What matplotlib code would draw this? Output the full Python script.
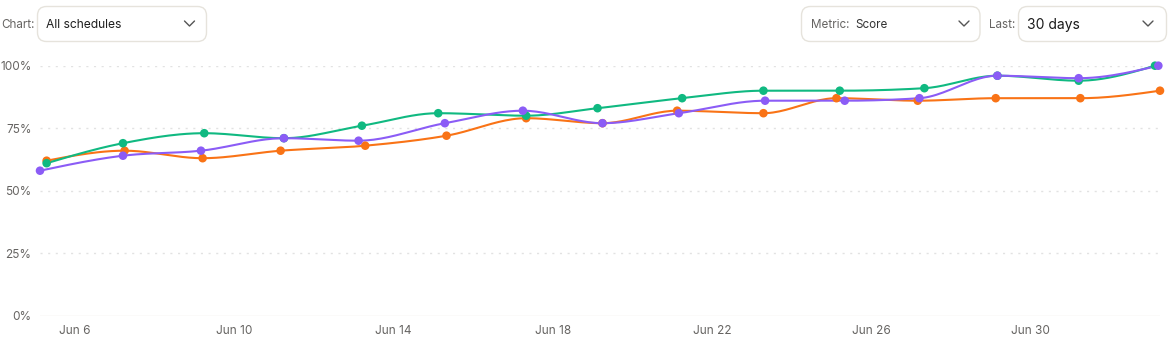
import matplotlib
matplotlib.use("Agg")
import matplotlib.pyplot as plt
import matplotlib.dates as mdates
from matplotlib.patches import FancyBboxPatch
import numpy as np
import pandas as pd

plt.rcParams["font.family"] = ["Inter", "DejaVu Sans"]

# score per run, three schedules (run timestamps differ slightly)
green_times = ["2025-06-05 07:00", "2025-06-07 05:00", "2025-06-09 06:00", "2025-06-11 06:00",
               "2025-06-13 05:00", "2025-06-15 03:00", "2025-06-17 08:00", "2025-06-19 03:00",
               "2025-06-21 06:00", "2025-06-23 07:00", "2025-06-25 05:00", "2025-06-27 08:00",
               "2025-06-29 04:00", "2025-07-01 05:00", "2025-07-03 03:00"]
green_scores = [61, 69, 73, 71, 76, 81, 80, 83, 87, 90, 90, 91, 96, 94, 100]

orange_times = ["2025-06-05 07:00", "2025-06-07 06:00", "2025-06-09 05:00", "2025-06-11 04:00",
                "2025-06-13 07:00", "2025-06-15 08:00", "2025-06-17 08:00", "2025-06-19 06:00",
                "2025-06-21 03:00", "2025-06-23 07:00", "2025-06-25 03:00", "2025-06-27 04:00",
                "2025-06-29 03:00", "2025-07-01 06:00", "2025-07-03 06:00"]
orange_scores = [62, 66, 63, 66, 68, 72, 79, 77, 82, 81, 87, 86, 87, 87, 90]

purple_times = ["2025-06-05 03:00", "2025-06-07 05:00", "2025-06-09 04:00", "2025-06-11 06:00",
                "2025-06-13 03:00", "2025-06-15 07:00", "2025-06-17 06:00", "2025-06-19 06:00",
                "2025-06-21 04:00", "2025-06-23 08:00", "2025-06-25 08:00", "2025-06-27 05:00",
                "2025-06-29 04:00", "2025-07-01 05:00", "2025-07-03 05:00"]
purple_scores = [58, 64, 66, 71, 70, 77, 82, 77, 81, 86, 86, 87, 96, 95, 100]

y_ticks = [0, 25, 50, 75, 100]
x_tick_dates = ["2025-06-06", "2025-06-10", "2025-06-14", "2025-06-18",
                "2025-06-22", "2025-06-26", "2025-06-30"]

GREEN, ORANGE, PURPLE = "#10b981", "#f97316", "#8b5cf6"
GREY_TXT = "#666462"


def monotone(x, y, n=24):
    """Monotone cubic curve through the points (same rule as d3 curveMonotoneX)."""
    x = np.asarray(x, float)
    y = np.asarray(y, float)
    h = np.diff(x)
    s = np.diff(y) / h
    m = np.zeros_like(y)
    for i in range(1, len(x) - 1):
        s0, s1 = s[i - 1], s[i]
        p = (s0 * h[i] + s1 * h[i - 1]) / (h[i - 1] + h[i])
        sg = (1 if s0 >= 0 else -1) + (1 if s1 >= 0 else -1)
        m[i] = sg * min(abs(s0), abs(s1), 0.5 * abs(p))
    m[0] = (3 * s[0] - m[1]) / 2
    m[-1] = (3 * s[-1] - m[-2]) / 2
    xs, ys = [], []
    t = np.linspace(0, 1, n)
    for i in range(len(x) - 1):
        h00 = 2 * t**3 - 3 * t**2 + 1
        h10 = t**3 - 2 * t**2 + t
        h01 = -2 * t**3 + 3 * t**2
        h11 = t**3 - t**2
        xs.append(x[i] + t * h[i])
        ys.append(h00 * y[i] + h10 * h[i] * m[i] + h01 * y[i + 1] + h11 * h[i] * m[i + 1])
    return np.concatenate(xs), np.concatenate(ys)


fig = plt.figure(figsize=(11.68, 3.47), dpi=100)
W, H = 1168, 347

# ---- header controls (pixel space overlay) ----
ui = fig.add_axes([0, 0, 1, 1])
ui.set_xlim(0, W)
ui.set_ylim(H, 0)
ui.axis("off")


def box(x0, x1, y0=6.5, y1=41.5):
    ui.add_patch(FancyBboxPatch((x0, y0), x1 - x0, y1 - y0,
                                boxstyle="round,pad=0,rounding_size=9",
                                facecolor="white", edgecolor="#e6e3dc", linewidth=1.0))


def chevron(cx, cy=23.5):
    ui.plot([cx - 5, cx, cx + 5], [cy - 2.5, cy + 2.5, cy - 2.5], color="#555555", lw=1.0,
            solid_capstyle="round", solid_joinstyle="round")


ui.text(1.5, 24.5, "Chart:", fontsize=8.4, color=GREY_TXT, va="center", ha="left")
box(37.5, 206.5)
ui.text(46.5, 24.5, "All schedules", fontsize=8.7, color="#1f1f1f", va="center", ha="left")
chevron(189.5)

box(801.5, 980)
ui.text(811, 24.5, "Metric:", fontsize=8.4, color=GREY_TXT, va="center", ha="left")
ui.text(855, 24.5, "Score", fontsize=8.4, color="#333333", va="center", ha="left")
chevron(964)

ui.text(989, 24.5, "Last:", fontsize=8.4, color=GREY_TXT, va="center", ha="left")
box(1018.5, 1166.5)
ui.text(1027, 24.5, "30 days", fontsize=10, color="#1a1a1a", va="center", ha="left")
chevron(1148)

# ---- chart ----
ax = fig.add_axes([40 / W, (H - 315.7) / H, 1120 / W, 250 / H])
ax.patch.set_alpha(0)

series = [
    (orange_times, orange_scores, ORANGE),
    (green_times, green_scores, GREEN),
    (purple_times, purple_scores, PURPLE),
]
all_x = []
for times, vals, col in series:
    xd = mdates.date2num(pd.to_datetime(times))
    all_x.extend(xd)
    cx, cy = monotone(xd, vals)
    ax.plot(cx, cy, color=col, lw=1.5, clip_on=False, zorder=2, solid_capstyle="round")
    ax.scatter(xd, vals, s=38, color=col, edgecolor="none", clip_on=False, zorder=3)

ax.set_xlim(min(all_x), max(all_x))
ax.set_ylim(0, 100)

for v in y_ticks:
    if v == 0:
        ax.axhline(v, color="#ebe9e3", lw=1.0, zorder=0)
    else:
        ax.axhline(v, color="#e2e2e2", lw=1.0, ls=(0, (1.5, 4)), zorder=0)

ax.set_yticks(y_ticks)
ax.set_yticklabels([f"{v}%" for v in y_ticks])
ax.set_xticks(mdates.date2num(pd.to_datetime(x_tick_dates)))
ax.set_xticklabels([f"Jun {pd.Timestamp(d).day}" for d in x_tick_dates])
ax.tick_params(axis="both", length=0, labelsize=8.5, labelcolor=GREY_TXT)
ax.tick_params(axis="y", pad=6.2)
ax.tick_params(axis="x", pad=7)
for sp in ax.spines.values():
    sp.set_visible(False)

fig.savefig("out.png", dpi=100, facecolor="white")
